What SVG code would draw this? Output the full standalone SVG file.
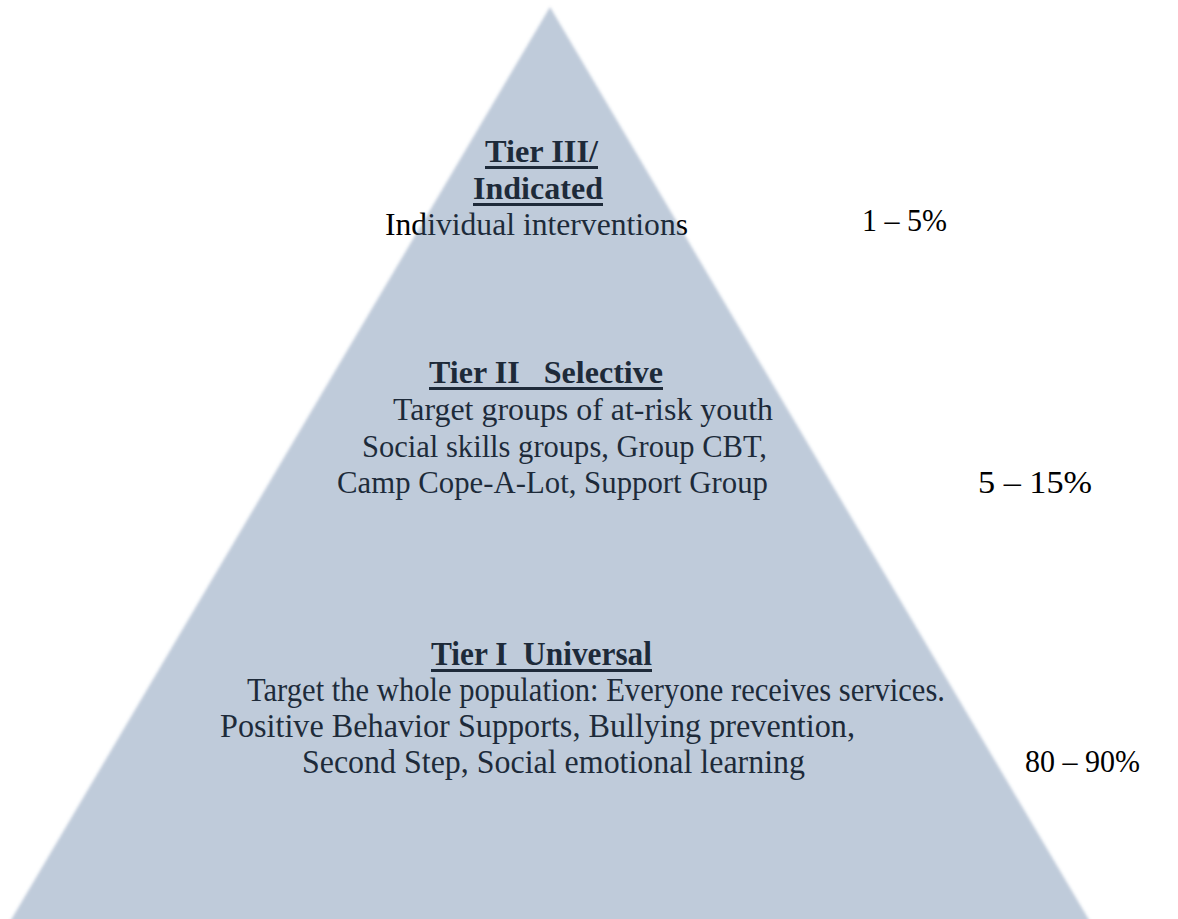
<svg xmlns="http://www.w3.org/2000/svg" width="1178" height="919" viewBox="0 0 1178 919">
  <style>
    text { font-family: "Liberation Serif", "Times New Roman", serif; font-size: 32px; fill: #000; }
    .head { font-weight: bold; white-space: pre; }
    .tall { font-size: 34px; }
    .rule { fill: #000; }
    .pyramid { fill: rgb(83,113,155); fill-opacity: 0.37; }
  </style>
  <defs>
    <filter id="soft" x="-5%" y="-5%" width="110%" height="110%">
      <feGaussianBlur stdDeviation="1.4"/>
    </filter>
  </defs>

  <rect width="1178" height="919" fill="#fff"/>

  <!-- Tier III -->
  <g id="tier3">
    <text class="head" x="485" y="162" textLength="113" lengthAdjust="spacingAndGlyphs">Tier III/</text>
    <rect class="rule" x="485" y="166" width="113" height="3"/>
    <text class="head" x="473" y="199" textLength="130" lengthAdjust="spacingAndGlyphs">Indicated</text>
    <rect class="rule" x="473" y="203" width="130" height="3"/>
    <text x="385" y="235" textLength="303" lengthAdjust="spacingAndGlyphs">Individual interventions</text>
  </g>
  <g id="pct3">
    <text x="862" y="231" textLength="85" lengthAdjust="spacingAndGlyphs">1 – 5%</text>
  </g>

  <!-- Tier II -->
  <g id="tier2">
    <text class="head" x="429" y="383" textLength="234" lengthAdjust="spacingAndGlyphs" xml:space="preserve">Tier II   Selective</text>
    <rect class="rule" x="429" y="387" width="234" height="3"/>
    <text x="393" y="420" textLength="380" lengthAdjust="spacingAndGlyphs">Target groups of at-risk youth</text>
    <text x="362" y="457" textLength="405" lengthAdjust="spacingAndGlyphs">Social skills groups, Group CBT,</text>
    <text x="337" y="493" textLength="431" lengthAdjust="spacingAndGlyphs">Camp Cope-A-Lot, Support Group</text>
  </g>
  <g id="pct2">
    <text x="978" y="493" textLength="114" lengthAdjust="spacingAndGlyphs">5 – 15%</text>
  </g>

  <!-- Tier I: condensed, slightly taller lettering -->
  <g id="tier1">
    <text class="head tall" x="431" y="665" textLength="221" lengthAdjust="spacingAndGlyphs" xml:space="preserve">Tier I  Universal</text>
    <rect class="rule" x="431" y="669" width="221" height="3"/>
    <text class="tall" x="247" y="701" textLength="698" lengthAdjust="spacingAndGlyphs">Target the whole population: Everyone receives services.</text>
    <text class="tall" x="220" y="737" textLength="635" lengthAdjust="spacingAndGlyphs">Positive Behavior Supports, Bullying prevention,</text>
    <text class="tall" x="302" y="773" textLength="503" lengthAdjust="spacingAndGlyphs">Second Step, Social emotional learning</text>
  </g>
  <g id="pct1">
    <text x="1025" y="772" textLength="115" lengthAdjust="spacingAndGlyphs">80 – 90%</text>
  </g>

  <!-- translucent pyramid laid over the labels -->
  <g id="pyramid">
    <polygon class="pyramid" filter="url(#soft)" points="550,7 8,925 1092,925"/>
  </g>
</svg>
